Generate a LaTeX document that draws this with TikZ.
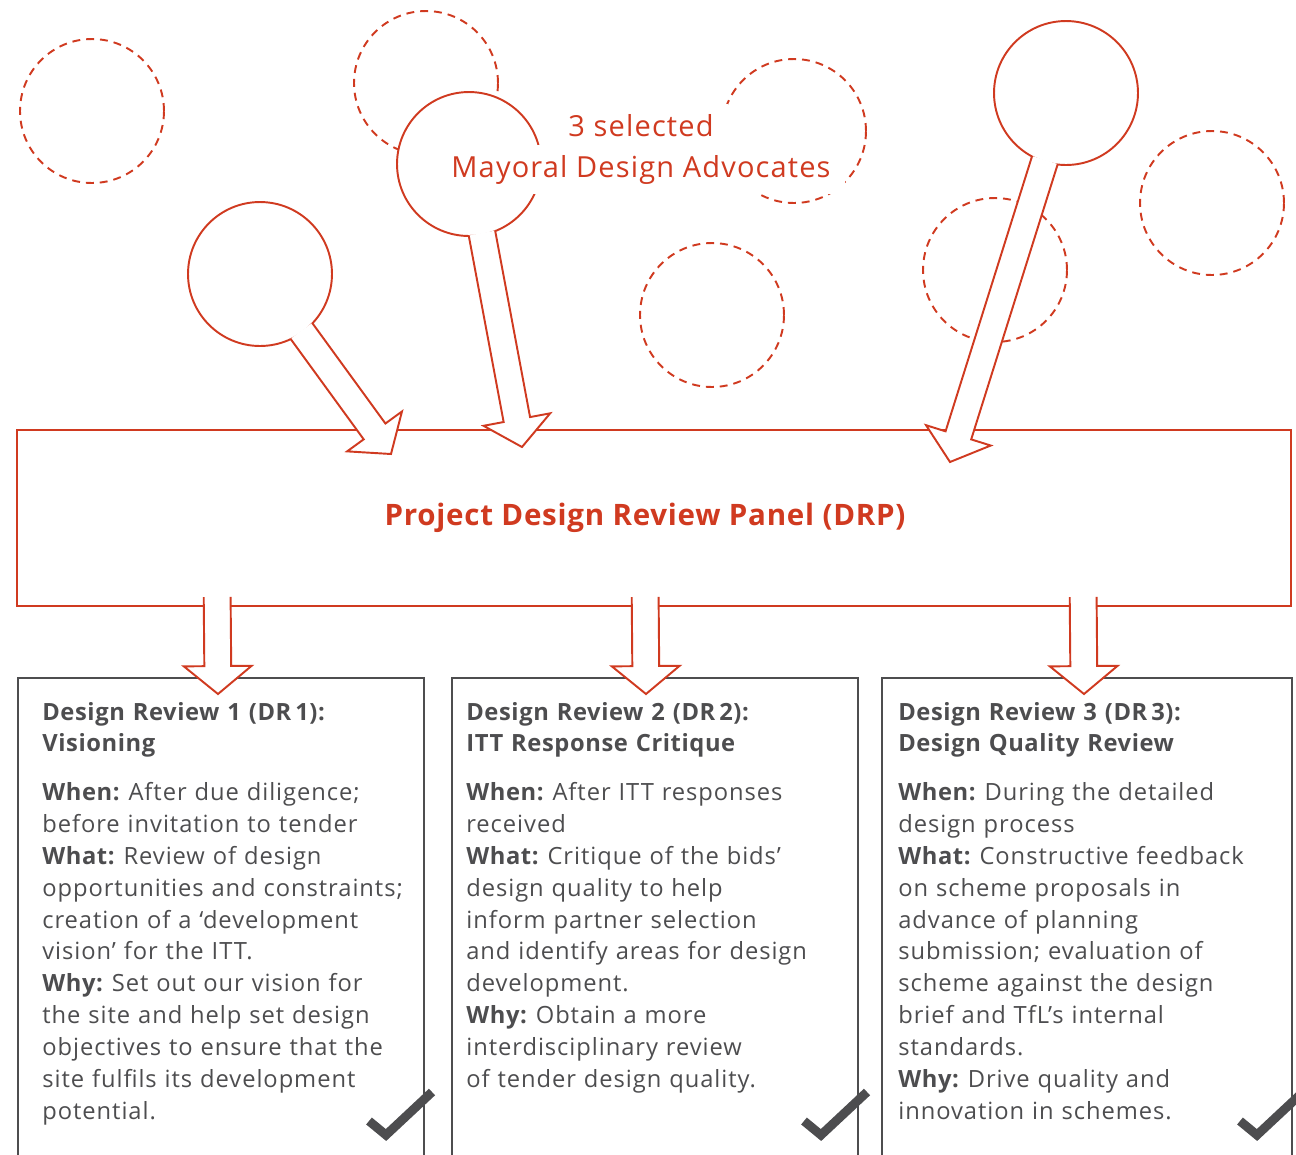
\documentclass[tikz,border=0pt]{standalone}
\usepackage{fontspec}
\setmainfont{Open Sans}[LetterSpace=4, BoldFeatures={LetterSpace=2.5}]
\usepackage{tikz}
\usetikzlibrary{
calc,
positioning
}
\definecolor{mdared}{RGB}{208,58,32}
\definecolor{drgray}{RGB}{77,77,79}

% bold lead-in word of a box line
\newcommand{\lbl}[1]{\textbf{#1}\hspace{-2pt}}

% hollow block arrow: #1 start, #2 tip, #3 distance of shaft start from #1
\newcommand{\blockarrow}[3]{%
  \path ($(#1)!#3!(#2)$) coordinate (ba-s)
        ($(#2)!15.9pt!(#1)$) coordinate (ba-h);
  \filldraw[hollowarrow]
    ($(ba-s)!7.65pt!90:(#2)$) -- ($(ba-h)!7.65pt!90:(#2)$)
    -- ($(ba-h)!19.3pt!90:(#2)$) -- (#2)
    -- ($(ba-h)!19.3pt!-90:(#2)$) -- ($(ba-h)!7.65pt!-90:(#2)$)
    -- ($(ba-s)!7.65pt!-90:(#2)$);
}

\begin{document}
\begin{tikzpicture}[
  x=0.02cm, y=-0.02cm,
  advocate/.style={circle, draw=mdared, fill=white, line width=1.1pt,
    minimum size=2.88cm, inner sep=0pt},
  candidate/.style={circle, draw=mdared, line width=1.1pt,
    dash pattern=on 4.5pt off 3.4pt, minimum size=2.88cm, inner sep=0pt},
  mdatext/.style={text=mdared, fill=white, anchor=base,
    font=\fontsize{16.5}{20}\selectfont, inner xsep=8pt, inner ysep=5.5pt},
  panel/.style={draw=mdared, fill=white, line width=1.1pt, text=mdared,
    font=\bfseries\fontsize{16.8}{19}\selectfont},
  drbox/.style={draw=drgray, line width=1.1pt, anchor=north west,
    minimum height=10.6cm, inner sep=0pt},
  boxtext/.style={text=drgray, font=\fontsize{13.5}{18.14}\selectfont,
    align=left, text width=8cm, anchor=base west, inner sep=0pt},
  hollowarrow/.style={draw=mdared, fill=white, line width=1.1pt,
    line join=miter},
  checkmark/.style={draw=drgray, line width=5.1pt, line join=miter}
]
\clip (0,0) rectangle (1296,1154);

%% ── CANDIDATE ADVOCATES (dashed) ─────────────────────────────
\node[candidate] (c1) at (92,111)  {};
\node[candidate] (c2) at (426,83)  {};
\node[candidate] (c3) at (794,131) {};
\node[candidate] (c4) at (712,315) {};
\node[candidate] (c5) at (995,270) {};
\node[candidate] (c6) at (1212,203) {};

%% Selected advocates
\node[advocate] (mda1) at (260,274)  {};
\node[advocate] (mda2) at (469,164)  {};
\node[advocate] (mda3) at (1066,93)  {};

\node[mdatext] (sel) at (641,136) {3 selected};
\node[mdatext] (mda) at (641,177) {Mayoral Design Advocates};

%% ── PANEL ────────────────────────────────────────────────────
\node[panel, minimum width=25.48cm, minimum height=3.52cm] (drp)
  at (654,518) {Project Design Review Panel (DRP)\hspace*{0.36cm}};

%% ── DESIGN REVIEWS ───────────────────────────────────────────
\node[drbox, minimum width=8.12cm] (dr1) at (17,677)  {};
\node[drbox, minimum width=8.12cm] (dr2) at (451,677) {};
\node[drbox, minimum width=8.2cm]  (dr3) at (881,677) {};

\node[boxtext] (dr1txt) at ($(dr1.north west)+(25,43)$) {%
  \textbf{Design Review 1 (DR\,1):}\\
  \textbf{Visioning}\\[9.6pt]
  \lbl{When:} After due diligence;\\
  before invitation to tender\\
  \lbl{What:} Review of design\\
  opportunities and constraints;\\
  creation of a ‘development\\
  vision’ for the ITT.\\
  \lbl{Why:} Set out our vision for\\
  the site and help set design\\
  objectives to ensure that the\\
  site fulfils its development\\
  potential.};

\node[boxtext] (dr2txt) at ($(dr2.north west)+(15,43)$) {%
  \textbf{Design Review 2 (DR\,2):}\\
  \textbf{ITT Response Critique}\\[9.6pt]
  \lbl{When:} After ITT responses\\
  received\\
  \lbl{What:} Critique of the bids’\\
  design quality to help\\
  inform partner selection\\
  and identify areas for design\\
  development.\\
  \lbl{Why:} Obtain a more\\
  interdisciplinary review\\
  of tender design quality.};

\node[boxtext] (dr3txt) at ($(dr3.north west)+(17,43)$) {%
  \textbf{Design Review 3 (DR\,3):}\\
  \textbf{Design Quality Review}\\[9.6pt]
  \lbl{When:} During the detailed\\
  design process\\
  \lbl{What:} Constructive feedback\\
  on scheme proposals in\\
  advance of planning\\
  submission; evaluation of\\
  scheme against the design\\
  brief and TfL’s internal\\
  standards.\\
  \lbl{Why:} Drive quality and\\
  innovation in schemes.};

%% ── ARROWS ───────────────────────────────────────────────────
\coordinate (t1) at (391,454);
\coordinate (t2) at (522,447);
\coordinate (t3) at (950,462);
\blockarrow{mda1}{t1}{40pt}
\blockarrow{mda2}{t2}{40pt}
\blockarrow{mda3}{t3}{40pt}

\coordinate (d1s) at ($(drp.south west)+(201,-10)$);
\coordinate (d2s) at ($(drp.south west)+(629,-10)$);
\coordinate (d3s) at ($(drp.south west)+(1067,-10)$);
\coordinate (d1t) at ($(dr1.north west)+(201,17)$);
\coordinate (d2t) at ($(dr2.north west)+(195,17)$);
\coordinate (d3t) at ($(dr3.north west)+(203,17)$);
\foreach \i in {1,2,3}{
  \blockarrow{d\i s}{d\i t}{0pt}
}

%% Ticks
\foreach \dx in {0,435,871}
  \draw[checkmark] (369+\dx,1121) -- (386+\dx,1135) -- (432+\dx,1092);

\end{tikzpicture}
\end{document}
